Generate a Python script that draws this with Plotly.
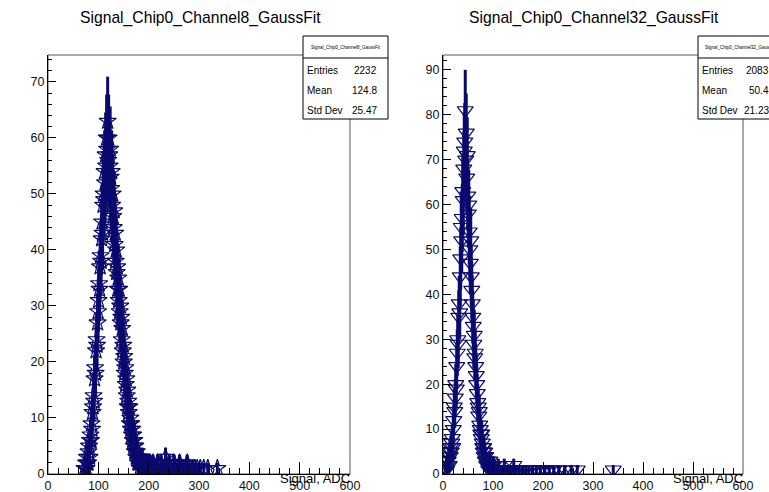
import numpy as np
import plotly.graph_objects as go

# ---------------- data ----------------
# Channel 8: 1-ADC bins starting at left_start
left_start = 72
left_counts = [
    1, 0, 1, 2, 1, 3, 2, 2,
    4, 5, 3, 6, 7, 6, 9, 8, 11, 12,
    14, 13, 17, 19, 18, 22, 24, 23, 27, 29,
    31, 34, 33, 37, 39, 38, 42, 45, 43, 48,
    50, 49, 54, 52, 57, 55, 60, 58, 63, 56,
    60, 57, 55, 58, 53, 51, 54, 48, 50, 46,
    44, 47, 41, 43, 38, 40, 36, 37, 33, 35,
    31, 33, 29, 30, 27, 28, 24, 26, 22, 23,
    20, 21, 18, 19, 16, 17, 14, 15, 12, 13,
    11, 12, 9, 10, 8, 9, 7, 8, 6, 7,
    5, 6, 4, 5, 4, 3, 4, 3, 2, 3,
    2, 3, 1, 2, 2, 1, 3, 1, 2, 1, 2, 1, 1, 2, 0, 1, 2, 1, 1, 2,
]
left_tail_x = [202, 205, 208, 211, 214, 217, 221, 224, 226, 229, 233, 236, 240, 243,
               247, 250, 254, 258, 261, 265, 268, 272, 276, 279, 283, 287, 291, 296,
               302, 309, 317, 336]
left_tail_y = [2, 1, 2, 1, 1, 2, 1, 2, 1, 1, 3, 1, 2, 1, 1, 2, 1, 1, 2, 1, 1, 1, 2, 1,
               1, 1, 1, 1, 1, 1, 1, 1]

# Channel 32
right_start = 5
right_counts = [
    1, 2, 1, 3, 2,
    3, 4, 2, 5, 4, 6, 5, 7, 8, 6,
    10, 12, 15, 14, 17, 20, 19, 24, 27, 30,
    29, 35, 38, 36, 44, 48, 55, 52, 57, 63,
    61, 68, 72, 74, 81, 70, 76, 66, 71, 62,
    58, 60, 54, 50, 47, 52, 44, 41, 38, 35,
    33, 29, 31, 26, 27, 24, 22, 20, 18, 16,
    15, 13, 14, 11, 10, 9, 8, 9, 7, 6,
    5, 6, 4, 5, 3, 4, 3, 2, 3, 2,
    2, 1, 2, 3, 1, 2, 1, 1, 2, 1,
]
right_tail_x = [101, 104, 107, 110, 114, 118, 122, 127, 131, 136, 141, 146, 152, 158,
                165, 171, 178, 186, 194, 203, 212, 221, 231, 243, 256, 268, 340]
right_tail_y = [2, 1, 1, 2, 1, 1, 2, 1, 1, 1, 2, 1, 1, 1, 1, 1, 1, 1, 1, 1, 1, 1, 1,
                1, 1, 1, 1]

titles = ["Signal_Chip0_Channel8_GaussFit", "Signal_Chip0_Channel32_GaussFit"]
stats_labels = ["Entries", "Mean", "Std Dev"]
stats_left = ["2232", "124.8", "25.47"]
stats_right = ["2083", "50.4", "21.23"]
x_ticks = [0, 100, 200, 300, 400, 500, 600]
xaxis_title = "Signal, ADC"

NAVY = "#0a0a6e"
W, H = 769, 492


def px(x):
    return x / W


def py(y):
    return 1 - y / H


def build(start, counts, tx, ty):
    x = list(np.arange(len(counts)) + start + 0.5) + [v + 0.5 for v in tx]
    y = list(counts) + list(ty)
    x = np.array(x, dtype=float)
    y = np.array(y, dtype=float)
    m = y > 0
    return x[m], y[m]


lx, ly = build(left_start, left_counts, left_tail_x, left_tail_y)
rx, ry = build(right_start, right_counts, right_tail_x, right_tail_y)

fig = go.Figure()
fig.add_trace(go.Scatter(
    x=lx, y=ly, mode="markers", xaxis="x", yaxis="y",
    marker=dict(symbol="star-open", size=13, color=NAVY, line=dict(width=1.2, color=NAVY)),
    error_y=dict(type="data", array=np.sqrt(ly), thickness=3, width=0, color=NAVY),
    showlegend=False,
))
fig.add_trace(go.Scatter(
    x=rx, y=ry, mode="markers", xaxis="x2", yaxis="y2",
    marker=dict(symbol="triangle-down-open", size=14, color=NAVY, line=dict(width=1.2, color=NAVY)),
    error_y=dict(type="data", array=np.sqrt(ry), thickness=3, width=0, color=NAVY),
    showlegend=False,
))

# panel geometry in pixels
panels = [
    dict(x0=48, x1=350, y0=55, y1=474, ymax=74.8, box=(303, 388), vx=379),
    dict(x0=443, x1=743, y0=55, y1=474, ymax=93.3, box=(698, 783), vx=771),
]

axfont = dict(family="Liberation Sans, Arial, sans-serif", size=12.5, color="#111")
common_x = dict(range=[0, 600], tickvals=x_ticks, ticks="inside", ticklen=12,
                tickcolor="black", showline=True, linecolor="black", linewidth=1,
                showgrid=False, zeroline=False, tickfont=axfont, automargin=False,
                minor=dict(dtick=20, ticks="inside", ticklen=6, tickcolor="black", showgrid=False))
common_y = dict(dtick=10, ticks="inside", ticklen=8, tickcolor="black", showline=True,
                linecolor="black", linewidth=1, showgrid=False, zeroline=False, tickfont=axfont,
                automargin=False,
                minor=dict(dtick=2, ticks="inside", ticklen=4, tickcolor="black", showgrid=False))

layout = dict(width=W, height=H, margin=dict(l=0, r=0, t=0, b=0, autoexpand=False),
              plot_bgcolor="white", paper_bgcolor="white")
for i, p in enumerate(panels):
    sx = "" if i == 0 else "2"
    layout["xaxis" + sx] = dict(common_x, domain=[px(p["x0"]), px(p["x1"])],
                                anchor="y" + sx)
    layout["yaxis" + sx] = dict(common_y, domain=[py(p["y1"]), py(p["y0"])],
                                range=[0, p["ymax"]], anchor="x" + sx)
fig.update_layout(**layout)

shapes = []
annotations = []
txtfont = "Liberation Sans, Arial, sans-serif"
for i, p in enumerate(panels):
    # frame
    shapes.append(dict(type="rect", xref="paper", yref="paper",
                       x0=px(p["x0"]), x1=px(p["x1"]), y0=py(p["y1"]), y1=py(p["y0"]),
                       line=dict(color="#555", width=1), layer="below"))
    # title
    annotations.append(dict(text=titles[i], xref="paper", yref="paper",
                            x=px((p["x0"] + p["x1"]) / 2 + 1), y=py(18), xanchor="center",
                            yanchor="middle", showarrow=False,
                            font=dict(family=txtfont, size=15.7, color="black")))
    # x axis title
    annotations.append(dict(text=xaxis_title, xref="paper", yref="paper",
                            x=px(p["x1"] + 2), y=py(478), xanchor="right", yanchor="middle",
                            showarrow=False, font=dict(family=txtfont, size=13, color="black")))
    # stats box
    bx0, bx1 = p["box"]
    shapes.append(dict(type="rect", xref="paper", yref="paper",
                       x0=px(bx0), x1=px(bx1), y0=py(119), y1=py(36),
                       fillcolor="white", line=dict(color="black", width=1), layer="above"))
    shapes.append(dict(type="line", xref="paper", yref="paper",
                       x0=px(bx0), x1=px(bx1), y0=py(58), y1=py(58),
                       line=dict(color="black", width=1), layer="above"))
    annotations.append(dict(text=titles[i], xref="paper", yref="paper",
                            x=px((bx0 + bx1) / 2), y=py(47), xanchor="center",
                            yanchor="middle", showarrow=False,
                            font=dict(family=txtfont, size=4.5, color="black")))
    vals = stats_left if i == 0 else stats_right
    for lab, val, yy in zip(stats_labels, vals, [71, 91, 111]):
        annotations.append(dict(text=lab, xref="paper", yref="paper", x=px(bx0 + 2),
                                y=py(yy), xanchor="left", yanchor="middle", showarrow=False,
                                font=dict(family=txtfont, size=10, color="black")))
        annotations.append(dict(text=val, xref="paper", yref="paper", x=px(p["vx"]),
                                y=py(yy), xanchor="right", yanchor="middle", showarrow=False,
                                font=dict(family=txtfont, size=10, color="black")))

fig.update_layout(shapes=shapes, annotations=annotations)
fig.write_html("out.html")
